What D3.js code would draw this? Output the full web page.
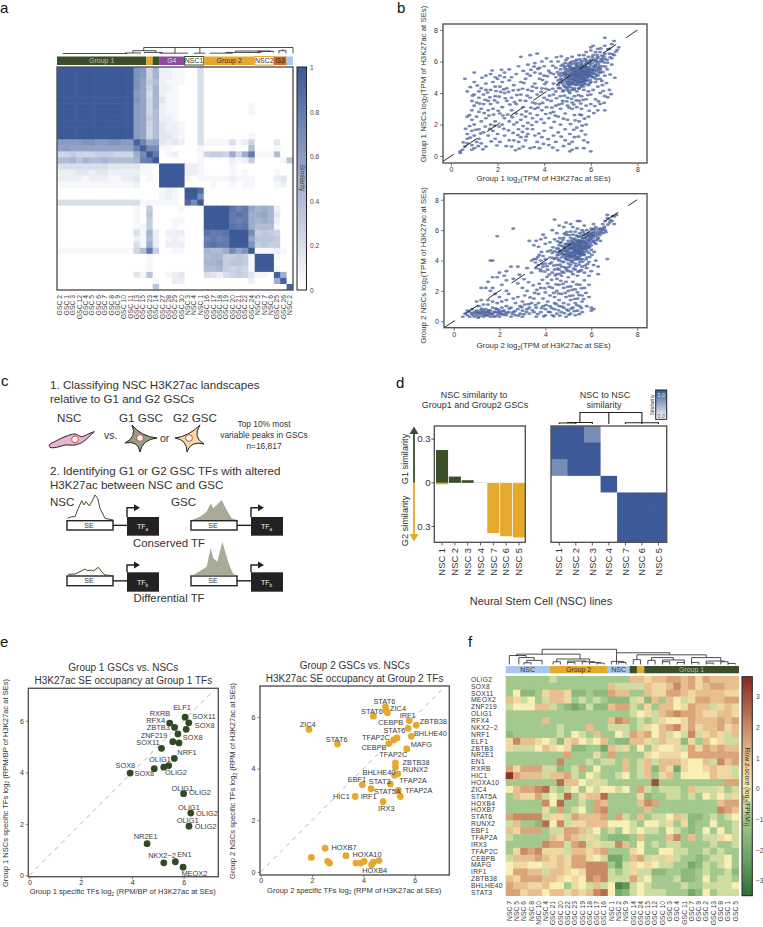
<!DOCTYPE html>
<html>
<head>
<meta charset="utf-8">
<script src="https://cdn.jsdelivr.net/npm/d3@7"></script>
<style>
body { margin: 0; background: #fff; }
svg { opacity: 0.999; }
text { font-family: "Liberation Sans", Arial, sans-serif; fill: #333; }
</style>
</head>
<body>
<svg id="fig" width="763" height="927"></svg>
<script>
'use strict';
// panel a: similarity matrix, one char per cell, 0..k means 0..1 in steps of 0.05
var aLabels = ['GSC 2','GSC 1','GSC 3','GSC 12','GSC 4','GSC 5','GSC 6','GSC 7','GSC 8','GSC 9','GSC 10','GSC 11','GSC 13','GSC 15','GSC 23','GSC 14','GSC 27','GSC 28','GSC 29','GSC 30','NSC 3','NSC 4','NSC 1','GSC 16','GSC 17','GSC 18','GSC 19','GSC 20','GSC 21','GSC 22','GSC 24','NSC 5','NSC 7','NSC 6','GSC 25','GSC 26','NSC 2'];
var aRows = [
 'kkkkkkkkkkkk dc59 2211 004 0000 000 0 000 00 0',
 'kkkkkkkkkkkk dc59 2211 004 0000 000 0 000 00 0',
 'kkkkkkkkkkkk db68 2111 004 0000 000 0 000 00 0',
 'kkkkkkkkkkkk db59 2210 004 0000 000 0 000 00 0',
 'kkkkkkkkkkkk cb49 2110 004 0000 000 0 000 00 0',
 'kkkkkkkkkkkk db59 3110 004 0000 000 0 000 00 0',
 'kkkkkkkkkkkk cb59 2110 004 0000 000 1 000 00 0',
 'kkkkkkkkkkkk cb58 2110 004 0000 000 1 000 00 0',
 'kkkkkkkkkkkk cb68 2210 004 0000 000 0 000 00 0',
 'kkkkkkkkkkkk cb58 3221 004 0000 000 0 000 00 0',
 'kkkkkkkkkkkk cb58 3221 004 0000 000 0 000 00 0',
 'kkkkkkkkkkkk cb58 3321 004 0000 000 1 000 00 0',
 'ccccddccddcc jfab 3232 004 1111 412 5 000 30 0',
 'bcbbbbbbbbbb fjee 1100 001 0000 100 8 000 10 0',
 '556555666555 aekg 0120 001 5665 a5a g 111 80 0',
 '889798898888 9fgk 0000 001 0000 212 6 000 01 7',
 '444444443333 3110 kkkk 221 0000 100 0 000 00 0',
 '222332332222 2110 kkkk 221 0000 101 0 000 10 0',
 '222212221122 3010 kkkk 101 1111 211 1 000 23 0',
 '111111111111 2000 kkkk 000 0100 101 1 000 12 0',
 '000000000000 0000 1210 kki 0000 000 0 000 00 0',
 '000000000000 0000 1210 kke 0000 000 0 000 00 0',
 '444444444444 4111 1110 iek 0000 000 0 000 00 0',
 '000000000000 1060 0001 000 kkkk hfg b 9a9 20 0',
 '000000000000 1070 0000 000 kkkk ghg a ab9 30 0',
 '000000000000 1060 0011 000 kkkk gfg a 9a9 20 0',
 '000000000000 1160 0010 000 kkkk hgh a 888 10 0',
 '000000000000 4192 0222 000 hggh kkk e 676 50 0',
 '000000000000 2182 0121 000 fgfg kkk b 777 60 0',
 '000000000000 41a2 0222 000 ghgg kkk d 676 60 0',
 '111111111111 58g6 0011 000 988a ebd k 111 21 0',
 '000000000000 0010 0000 000 8996 676 1 kkk 10 0',
 '000000000000 0010 0000 000 99a6 776 1 kkk 00 0',
 '000000000000 0010 0000 000 8896 565 1 kkk 10 0',
 '000000000000 3170 0123 000 4324 565 3 110 ja 0',
 '000000000000 0001 0022 000 0000 000 2 000 aj 0',
 '000000000000 0007 0000 000 0000 000 0 000 00 j'
];
var aBars = [
 {from: 0, to: 14, name: 'Group 1', fill: '#3a4f2a', text: '#b9c0a8'},
 {from: 14, to: 15, name: '', fill: '#e5a92d', text: '#333'},
 {from: 15, to: 16, name: '', fill: '#3a4f2a', text: '#333'},
 {from: 16, to: 20, name: 'G4', fill: '#8e4a9e', text: '#ddd'},
 {from: 20, to: 23, name: 'NSC1', fill: '#fff', edge: '#3a4f2a', text: '#333'},
 {from: 23, to: 31, name: 'Group 2', fill: '#e5a92d', text: '#333'},
 {from: 31, to: 34, name: 'NSC2', fill: '#fff', edge: '#e5a92d', text: '#333'},
 {from: 34, to: 36, name: 'G3', fill: '#d2691e', text: '#222'},
 {from: 36, to: 37, name: '', fill: '#a6c8ea', text: '#333'}
];
// dendrogram merges: left leaf, right leaf, left child height, right child height, height
var aDendro = [[0.4,10.5,0,0,0],[10.2,12.6,0,0,1.5],[11.4,15,1.5,3,8],[13.2,16,0,0,3],[13.1,36.5,8,0,17],
 [15.6,20,0,0,1],[18,18,1,17,17],[21,22.7,0,0,1],[21.9,21.9,1,17,17],[23.5,27,0,0,1],[26,29.5,1,2,3],[27.5,33,3,5,7],
 [29.5,31.5,1,1,3],[31,33.5,1,3,6],[34.3,35.4,0,0,8],[34.9,34.9,8,12,12]];

// panel b: scatter points, "x,y" pairs
var b1Points = ('0.4,0.3 0.5,0.4 0.4,0.2 0.7,1.1 0.7,0.8 0.9,0.4 0.9,0.7 1.0,0.5 0.6,0.6 1.1,0.9 1.0,1.3 0.9,1.6 0.7,1.4 1.2,1.1 1.3,0.8 1.5,0.6 1.2,1.7 0.8,1.9 1.4,1.5 1.0,2.0 1.6,1.3 1.8,1.6 1.9,1.1 2.0,1.4 2.1,0.9 1.7,2.0 1.3,2.2 0.9,2.3 0.7,2.5 0.8,2.6 1.1,2.5 1.5,2.4 1.9,2.2 2.2,2.0 0.9,2.9 1.2,2.8 1.6,2.9 1.0,3.2 1.4,3.3 1.8,3.0 2.1,2.7 2.3,2.4 ' +
 '0.6,4.9 1.0,4.7 0.7,4.1 1.0,3.9 1.2,3.7 0.9,3.5 1.4,3.9 1.6,3.5 1.3,4.3 1.7,4.2 1.9,3.8 2.0,3.4 2.2,3.1 2.4,3.5 1.5,4.6 1.8,4.7 2.1,4.4 2.3,4.0 2.6,3.7 2.8,3.3 1.0,5.3 1.5,5.1 1.7,5.2 1.9,5.0 2.1,5.1 2.3,5.3 2.0,4.9 2.5,4.8 2.7,4.5 2.9,4.2 1.2,4.1 1.5,4.2 1.1,3.4 1.3,3.0 1.7,3.3 1.9,4.4 2.2,4.7 2.4,4.3 2.6,5.0 2.8,5.2 2.5,5.5 2.3,5.0 ' +
 '3.0,3.9 3.2,3.5 3.1,3.1 3.4,3.7 3.3,4.2 3.5,4.4 3.0,4.7 3.2,4.9 3.4,5.1 3.1,5.4 2.9,5.7 3.3,5.8 3.0,6.3 3.4,6.4 3.6,5.9 3.7,6.5 3.8,5.6 3.9,6.0 3.6,5.3 3.8,4.9 4.0,5.7 4.1,6.2 4.0,5.1 3.6,4.6 3.9,4.3 3.7,3.9 3.5,3.4 4.1,4.7 4.2,5.4 4.3,6.0 4.2,4.2 4.0,3.7 3.8,3.3 3.6,3.0 3.4,2.7 3.2,2.5 3.0,2.3 2.8,2.7 2.6,2.9 2.5,2.2 2.7,2.0 2.9,1.7 3.1,1.9 3.3,2.1 3.5,2.4 3.7,2.6 3.9,2.9 4.1,3.1 4.3,3.5 4.4,3.9 4.4,4.6 4.4,5.2 ' +
 '2.3,1.3 2.5,1.0 2.7,1.0 2.6,0.6 2.9,0.9 3.0,1.2 3.2,1.0 3.1,0.6 3.4,0.5 3.3,1.4 3.5,1.7 3.7,0.9 3.8,0.5 3.9,1.2 3.6,1.3 4.0,1.6 4.0,2.1 4.2,2.4 4.3,1.8 4.4,1.3 4.5,0.9 4.2,0.7 4.6,1.5 4.7,2.0 4.6,2.5 4.4,2.8 4.5,3.2 4.7,3.0 4.9,2.7 4.9,1.7 5.0,2.3 5.1,1.4 4.9,1.0 5.2,0.9 5.2,0.4 5.1,0.3 5.4,0.5 5.3,1.2 5.4,1.8 5.5,2.2 5.6,1.6 5.7,1.0 6.0,0.3 5.7,0.5 5.8,2.0 5.9,2.5 5.6,2.6 5.3,2.6 5.2,3.0 5.0,3.2 4.8,3.5 4.7,3.8 ' +
 '5.0,3.7 5.2,3.4 5.4,3.1 5.6,3.0 5.8,3.2 5.5,3.5 5.3,3.8 5.1,4.0 5.6,3.8 5.8,3.6 6.0,3.3 6.3,2.9 6.6,2.9 6.4,3.3 6.2,3.6 6.0,3.9 5.9,4.1 5.7,4.2 6.1,4.2 6.4,4.0 6.6,3.8 6.3,4.4 6.5,4.5 6.8,4.2 ' +
 '4.5,4.1 4.6,4.5 4.7,4.3 4.8,4.1 4.9,4.4 5.0,4.2 5.1,4.5 5.2,4.2 5.3,4.3 5.4,4.1 5.5,4.3 5.6,4.5 5.7,4.6 5.4,4.5 5.2,4.6 5.0,4.7 4.8,4.6 4.6,4.8 4.5,5.0 4.7,5.1 4.9,5.0 5.1,4.8 5.3,4.9 5.5,4.7 5.6,4.9 5.8,4.8 6.0,4.7 5.9,4.5 6.2,4.7 6.4,4.9 6.1,5.0 5.9,5.1 5.7,5.0 5.5,5.1 5.3,5.2 5.1,5.1 4.9,5.3 4.7,5.5 4.5,5.6 4.6,6.0 4.8,5.8 5.0,5.5 5.2,5.4 5.4,5.3 5.6,5.2 5.8,5.3 6.0,5.3 6.2,5.2 6.4,5.3 6.6,5.1 6.3,5.5 6.1,5.5 5.9,5.5 5.7,5.4 5.5,5.5 5.3,5.6 5.1,5.7 4.9,5.9 5.0,6.2 5.2,6.0 5.4,5.8 5.6,5.6 5.8,5.7 6.0,5.8 6.2,5.8 6.5,5.7 6.7,5.5 6.9,5.8 6.4,6.0 6.2,6.1 6.0,6.1 5.8,6.0 5.6,5.9 5.4,6.1 5.2,6.3 5.5,6.4 5.7,6.4 5.9,6.3 6.1,6.4 6.3,6.3 6.5,6.2 6.7,6.1 6.9,6.2 7.0,6.4 6.8,6.5 6.6,6.5 6.4,6.6 6.2,6.6 6.0,6.7 5.8,6.6 6.1,7.0 6.0,6.9 6.3,6.8 6.6,7.0 6.9,7.1 7.0,7.3 6.6,7.5 7.2,6.9 6.8,6.8 ' +
 '5.05,4.95 5.15,5.05 5.25,4.85 5.35,5.05 5.45,4.95 5.15,5.25 5.25,5.15 5.35,5.35 5.45,5.25 5.55,5.35 5.05,5.35 4.95,5.15 5.65,5.05 5.75,5.15 5.25,4.65 5.35,4.75 5.45,4.65 5.05,4.55 5.15,4.35 5.55,4.55 5.65,4.75 5.75,4.85 5.85,4.95 5.95,5.25 5.85,5.15 5.25,5.45 5.15,5.55 5.35,5.55 5.45,5.65 5.55,5.75 5.65,5.35 5.65,5.55 5.75,5.65 5.85,5.45 5.95,5.65 6.05,5.45 5.05,5.85 4.85,5.25 4.75,4.85 4.85,4.45 4.95,4.85 ' +
 '4.62,4.31 4.71,4.92 4.83,4.17 4.94,5.21 5.03,4.38 5.12,5.62 5.21,4.73 5.27,5.33 5.36,4.87 5.43,5.47 5.52,5.02 5.58,4.41 5.61,5.78 5.72,5.23 5.78,4.57 5.83,5.92 5.91,5.07 5.97,4.83 6.03,5.37 6.11,5.67 6.17,4.93 6.22,6.02 6.31,5.13 6.37,5.73 6.44,6.13 6.52,5.33 6.58,5.93 4.58,5.32 4.67,4.64 4.73,5.73 4.87,5.57 4.92,4.73 5.01,5.03 5.08,4.67 5.13,5.17 5.18,4.93 5.22,5.58 5.28,5.07 5.31,4.52 5.34,5.23 5.38,5.72 5.41,5.13 5.47,4.82 5.49,5.38 5.53,5.57 5.57,5.12 5.62,4.67 5.63,5.43 5.68,5.67 5.71,4.93 5.74,5.47 5.77,5.83 5.82,5.02 5.87,5.33 5.92,5.42 5.96,4.62 6.01,5.12 6.07,5.93 6.13,5.27 6.16,5.62 6.23,5.42 6.28,6.22 6.33,5.87 6.41,5.47 6.47,6.37 6.57,6.33 6.63,5.67 6.72,5.92 6.83,6.27 6.93,6.47 7.07,6.62 7.13,6.73 6.73,6.77 6.43,6.83 6.27,6.43 6.07,6.27 5.93,5.88 5.73,6.17 5.53,6.13 5.33,6.03 5.13,5.93 4.93,6.08 4.73,6.33 4.53,6.27 4.37,5.73 4.27,5.27 4.13,5.07 4.03,4.57 3.93,4.82 3.83,5.23 3.73,5.53 3.57,5.68 3.43,5.47 3.27,5.22 3.13,4.63 3.07,4.27 3.27,3.83 3.47,4.13 3.67,4.33 3.87,4.07 4.07,4.27 4.23,3.83 4.37,4.27 4.53,3.67 4.63,3.27 4.77,3.33 4.87,3.83 4.97,3.47 5.07,3.07 5.17,3.63 5.27,3.27 5.37,3.53 5.47,3.87 5.57,3.33 5.67,3.57 5.87,3.87 ' +
 '2.17,5.47 1.77,5.43 1.33,4.97 1.13,4.47 1.57,4.03 1.87,3.53 2.07,3.77 2.27,4.23 2.47,4.07 2.67,4.17 2.83,3.87 2.97,3.53 2.73,3.43 2.53,3.27 2.33,3.67 2.13,4.07 1.93,4.13 1.67,3.73 1.47,3.57 1.23,3.33 0.93,3.83 0.83,4.37 1.43,2.73 1.63,2.57 1.83,2.63 2.03,2.87 2.23,2.57 2.43,2.63 2.63,2.47 2.83,2.13 3.03,2.63 3.23,2.83 3.43,3.07 3.63,3.33 3.73,3.07 3.93,3.37 4.13,3.57 4.33,3.07 4.47,2.57 4.27,2.73 4.07,2.67 3.87,2.33 3.67,2.17 3.47,1.97 3.27,1.73 3.07,1.53 2.87,1.33 2.67,1.47 2.47,1.63 2.27,1.73 2.07,1.87 1.87,1.93 1.67,1.73 1.47,1.87 1.27,1.43 1.07,1.67 0.83,1.17 0.53,0.87 0.63,1.73 1.17,0.63 1.37,0.43 1.73,0.93 1.97,0.67 2.37,0.63 2.77,0.37 2.93,0.47 3.23,1.23 3.57,0.57 3.77,1.43 3.97,0.77 4.17,1.07 4.37,0.53 4.57,0.37 4.73,1.23 4.83,0.63 5.07,0.77 5.27,1.67 5.47,1.23 5.63,1.93 5.77,1.37 5.87,0.87 4.43,2.17 4.83,2.37 5.13,2.03 5.33,2.27 5.53,2.63 5.73,2.37 5.93,2.87 6.13,2.73 6.17,3.17 6.33,3.47 6.57,3.37 6.73,3.73 6.87,3.93 6.53,4.13 6.67,4.63 7.03,4.97 6.83,5.17 6.47,4.77 6.27,4.87 ' +
 '4.92,5.42 4.98,4.58 5.04,5.18 5.09,4.88 5.11,5.44 5.16,4.62 5.19,5.09 5.23,5.26 5.26,4.92 5.29,5.52 5.32,4.78 5.33,5.12 5.37,5.42 5.39,4.98 5.42,5.18 5.44,4.72 5.46,5.08 5.48,5.62 5.51,5.24 5.54,4.88 5.56,5.46 5.59,4.98 5.62,5.28 5.64,5.68 5.66,4.86 5.69,5.12 5.71,5.38 5.73,4.72 5.76,5.32 5.79,5.58 5.81,5.22 5.84,4.78 5.86,5.62 5.89,5.38 5.93,5.18 5.98,5.52 6.04,5.02 6.08,5.22 6.14,5.42 6.19,5.72 6.24,5.08 6.29,5.62 6.34,5.32 4.96,4.32 5.06,4.12 5.18,4.58 5.28,4.22 5.38,4.58 5.48,4.28 5.58,4.72 5.68,4.42 4.78,4.72 4.84,5.12 4.88,5.68 4.76,5.28 4.64,5.18 5.02,5.72 5.18,5.82 5.32,5.88 5.46,5.92 5.62,6.02 5.78,6.12 5.94,6.02 6.12,6.12 6.26,5.98 6.39,5.58 6.49,6.02 6.61,6.17').split(' ');
var b2Points = ('0.4,0.3 0.5,0.5 0.6,0.4 0.7,0.6 0.7,0.3 0.8,0.5 0.9,0.3 0.9,0.6 1.0,0.4 1.0,0.7 0.6,0.7 0.8,0.8 1.1,0.5 1.1,0.3 1.2,0.6 1.2,0.4 1.3,0.7 1.3,0.3 1.4,0.5 1.4,0.8 1.5,0.4 1.5,0.6 1.6,0.3 1.6,0.7 1.7,0.5 1.7,0.9 1.8,0.3 1.8,0.6 1.9,0.8 1.9,0.4 2.0,0.6 2.0,0.3 2.1,0.9 2.1,0.5 2.2,0.7 2.3,0.4 2.3,1.0 2.4,0.6 2.5,0.3 2.5,0.9 2.6,0.6 2.7,0.4 2.8,0.8 2.9,0.5 3.0,0.7 3.0,0.3 1.1,1.0 1.3,1.1 1.5,1.1 1.0,1.3 1.2,1.4 1.5,1.4 1.7,1.3 1.9,1.2 2.1,1.3 2.3,1.4 2.0,1.6 1.8,1.8 1.6,2.0 1.4,2.2 1.7,2.2 1.2,2.2 1.5,2.6 1.9,2.9 2.1,2.4 2.3,2.0 2.4,1.8 2.6,1.5 2.7,1.2 2.9,1.0 2.8,1.6 3.0,1.3 3.1,1.1 3.2,0.8 3.3,0.5 3.1,1.7 3.2,2.0 3.0,2.2 2.8,2.5 2.6,2.8 2.3,2.7 2.2,3.0 2.0,3.2 1.7,2.9 1.9,5.6 2.6,6.1 3.4,3.2 3.2,3.5 2.8,3.6 2.5,3.6 2.3,3.3 1.6,4.0 1.7,4.0 ' +
 '3.3,0.9 3.4,1.2 3.5,0.6 3.5,1.5 3.6,0.9 3.6,0.3 3.7,1.2 3.7,1.8 3.8,0.6 3.8,2.2 3.9,1.0 3.9,1.5 4.0,0.4 4.0,0.8 4.0,1.9 4.1,1.3 4.1,2.5 4.2,0.6 4.2,1.0 4.2,1.7 4.3,2.2 4.3,0.4 4.4,0.8 4.4,1.2 4.4,1.6 4.5,0.5 4.5,2.0 4.5,2.8 4.6,1.0 4.6,1.4 4.6,2.4 4.7,0.6 4.7,1.8 4.7,3.0 4.8,0.9 4.8,1.2 4.8,2.2 4.9,0.3 4.9,1.6 4.9,2.6 5.0,0.7 5.0,1.1 5.0,2.0 5.0,2.9 5.1,1.4 5.1,0.5 5.1,2.3 5.2,0.9 5.2,1.7 5.2,2.6 5.3,0.4 5.3,1.2 5.3,2.1 5.4,0.7 5.4,1.5 5.4,1.9 5.5,1.0 5.5,2.4 5.6,0.6 5.6,1.3 5.6,1.7 5.7,2.2 5.8,1.0 5.9,1.6 6.0,0.7 6.1,0.8 6.0,0.9 5.7,2.7 5.9,2.4 ' +
 '3.4,4.0 3.5,4.1 3.6,4.1 3.7,3.7 3.6,3.5 3.8,4.0 3.9,3.6 3.8,3.3 3.9,4.3 4.0,4.1 4.0,3.8 4.1,3.4 4.1,4.6 4.2,4.2 4.2,3.8 4.3,3.2 4.3,4.5 4.0,5.1 3.5,5.0 3.6,5.3 3.3,5.3 3.8,5.4 4.0,5.5 3.7,4.9 4.2,5.2 4.4,5.4 4.5,5.8 4.3,6.0 3.9,5.7 4.4,6.7 4.8,6.2 4.6,6.3 4.9,6.5 5.1,6.4 5.4,6.6 5.5,6.6 5.2,6.2 4.4,3.4 4.5,3.1 4.5,3.7 4.6,3.4 4.7,3.6 4.8,3.2 4.9,3.5 5.0,3.3 5.1,3.7 5.2,3.1 5.3,3.4 5.4,3.0 5.5,3.3 5.6,3.6 5.7,3.2 5.8,3.5 5.9,3.0 6.0,3.3 6.1,3.7 6.3,3.1 6.3,3.6 6.7,4.1 6.2,4.0 5.9,3.9 ' +
 '4.4,4.1 4.4,4.6 4.5,4.2 4.5,4.8 4.6,4.0 4.6,4.4 4.6,5.0 4.7,4.2 4.7,4.6 4.7,5.2 4.8,3.9 4.8,4.4 4.8,4.9 4.8,5.5 4.9,4.1 4.9,4.6 4.9,5.1 4.9,5.7 5.0,3.8 5.0,4.3 5.0,4.8 5.0,5.3 5.1,4.0 5.1,4.5 5.1,5.0 5.1,5.5 5.1,5.9 5.2,4.2 5.2,4.7 5.2,5.2 5.2,5.7 5.3,3.8 5.3,4.4 5.3,4.9 5.3,5.4 5.3,5.9 5.4,4.1 5.4,4.6 5.4,5.1 5.4,5.6 5.4,6.1 5.5,3.9 5.5,4.3 5.5,4.8 5.5,5.3 5.5,5.8 5.6,4.1 5.6,4.6 5.6,5.0 5.6,5.5 5.6,6.0 5.7,4.4 5.7,4.8 5.7,5.3 5.7,5.7 5.7,6.3 5.8,4.2 5.8,4.6 5.8,5.1 5.8,5.5 5.8,6.0 5.9,4.5 5.9,5.3 5.9,5.8 6.0,4.7 6.0,5.0 6.0,5.6 6.0,6.1 6.1,5.3 6.1,5.9 6.1,6.4 6.2,5.1 6.2,5.6 6.2,6.2 6.3,5.5 6.3,5.9 6.4,5.3 6.4,6.1 6.5,5.8 6.5,6.4 6.6,6.0 6.6,6.6 6.7,6.8 6.8,6.5 6.7,7.0 6.9,6.6 7.0,6.9 7.1,7.0 7.0,6.4 ' +
 '5.05,4.75 5.15,4.85 5.25,4.55 5.35,4.65 5.45,4.45 5.15,4.25 5.25,4.05 5.35,4.25 5.45,4.85 5.55,4.55 5.65,4.75 5.25,4.95 5.35,5.15 5.45,5.35 5.55,5.15 5.65,5.25 5.75,5.05 4.95,4.45 4.85,4.75 4.75,4.45 5.05,5.05 5.15,5.25 5.25,5.45 5.35,5.65 5.45,5.55 5.55,5.65 5.65,5.85 5.75,5.55 5.85,5.75 5.95,5.55 5.05,4.15 5.15,3.95 5.45,4.15 5.65,4.35 5.85,4.85 5.95,5.15 6.05,5.25 6.05,5.75 4.65,4.65 4.55,4.55 ' +
 '0.83,0.43 0.97,0.53 1.07,0.23 1.17,0.73 1.27,0.53 1.37,0.63 1.43,0.37 1.53,0.73 1.63,0.47 1.73,0.33 1.83,0.83 1.93,0.57 2.03,0.47 2.13,0.67 2.27,0.53 2.43,0.83 2.57,0.47 2.67,0.67 2.83,0.37 2.97,0.93 3.07,0.47 3.17,0.63 3.27,1.13 3.43,0.73 3.57,1.07 3.67,0.47 3.83,0.87 3.93,0.33 4.03,1.07 4.13,0.63 4.27,0.87 4.37,0.33 4.47,1.13 4.57,0.73 4.63,0.37 4.73,0.97 4.83,0.53 4.93,0.77 5.03,0.43 5.13,0.83 5.27,0.67 5.37,1.07 5.47,0.47 5.57,0.87 3.33,1.57 3.53,1.87 3.63,2.07 3.47,2.37 3.27,2.57 3.07,2.77 2.87,3.07 3.73,2.47 3.87,2.73 3.97,2.17 4.07,2.93 4.17,2.27 4.27,2.73 4.37,1.87 4.47,2.43 4.57,1.83 4.67,2.67 4.77,2.47 4.87,1.87 4.97,2.27 5.07,1.67 5.17,2.07 5.27,1.47 5.37,2.43 5.47,1.73 5.57,2.17 5.67,1.47 5.77,1.87 ' +
 '3.57,3.87 3.67,4.23 3.77,3.43 3.87,3.77 3.97,3.27 4.07,3.63 4.17,3.07 4.27,3.87 4.33,4.17 4.37,3.67 4.43,3.03 4.53,3.47 4.57,4.07 4.63,3.13 4.63,3.73 4.73,3.27 4.73,3.93 4.83,3.57 4.87,4.17 4.93,3.37 4.97,4.03 5.03,3.57 5.07,4.37 5.13,3.27 5.17,3.87 5.23,3.47 5.27,4.33 5.33,3.63 5.37,4.07 5.43,3.27 5.47,3.73 5.53,4.07 5.57,3.37 5.63,3.93 5.73,3.67 5.77,4.07 5.83,3.77 5.93,4.23 6.03,4.37 6.13,4.57 ' +
 '4.52,4.37 4.57,4.77 4.63,5.17 4.68,4.53 4.72,4.97 4.77,5.37 4.83,4.63 4.88,5.07 4.92,4.27 4.97,4.67 5.02,5.13 5.08,4.37 5.12,4.83 5.17,5.37 5.22,4.47 5.24,5.03 5.28,4.77 5.32,5.27 5.37,4.43 5.38,4.93 5.42,5.23 5.46,4.67 5.48,5.03 5.52,4.37 5.53,4.93 5.58,5.23 5.61,4.83 5.63,5.43 5.67,4.57 5.72,4.93 5.74,5.17 5.78,4.73 5.82,5.37 5.86,5.03 5.88,5.63 5.92,4.87 5.97,5.43 6.02,5.83 6.07,5.47 6.12,5.67 6.17,6.03 6.23,5.33 6.27,5.73 6.33,6.07 6.37,5.67 6.43,5.93 6.53,6.13 6.63,5.87 6.73,6.37 6.83,6.67 6.93,6.93 5.03,5.67 4.83,5.77 4.93,5.87 4.63,5.47 4.53,5.27 4.33,4.87 4.23,4.67 3.83,4.57 3.73,4.37 ' +
 '4.78,4.32 4.84,4.82 4.91,4.42 4.96,4.92 5.01,4.58 5.06,4.28 5.09,4.92 5.14,4.52 5.18,5.12 5.21,4.32 5.23,4.82 5.27,5.08 5.29,4.62 5.31,4.18 5.33,4.72 5.36,4.98 5.39,4.52 5.41,5.28 5.43,4.78 5.44,4.22 5.47,5.12 5.49,4.62 5.51,4.98 5.54,4.48 5.56,5.28 5.59,4.72 5.62,4.42 5.64,5.12 5.68,4.88 5.71,5.48 5.76,4.92 5.81,5.22 5.84,5.62 5.89,4.92 5.94,5.38 5.99,5.72 6.09,5.62 6.14,5.18 6.19,5.82 6.28,5.42 6.38,5.82 6.48,6.02 6.58,6.22 1.13,0.58 1.33,0.42 1.47,0.62 1.58,0.52 1.77,0.62 1.97,0.72 2.17,0.42 2.33,0.58 1.23,0.83 1.02,0.62').split(' ');

// panel d
var nscOrder = ['NSC 1','NSC 2','NSC 3','NSC 4','NSC 7','NSC 6','NSC 5'];
var g1Sim = [0.225, 0.043, 0.018, 0.001, 0, 0, 0];
var g2Sim = [0.01, 0, 0, 0, 0.344, 0.366, 0.375];
var nscMatrix = [
 [1,1,0.7,0,0,0,0],
 [1,1,1,0,0,0,0],
 [0.7,1,1,0,0,0,0],
 [0,0,0,1,0,0,0],
 [0,0,0,0,1,1,1],
 [0,0,0,0,1,1,1],
 [0,0,0,0,1,1,1]
];
var dDendro = [[0,1,0,0,1],[0.5,2,1,0,1.5],[1.25,5,1.5,0,11],[4,6,0,0,1.2],[3,3,0,11,11]];

// panel e
var e1X = [6.06,6.2,6.1,5.46,5.65,5.78,5.58,5.82,5.14,5.64,5.23,5.42,4.86,3.92,6.0,6.28,6.21,4.58,5.23,5.68,5.98];
var e1Y = [6.14,5.92,5.67,5.91,5.74,5.49,5.19,5.14,4.93,4.54,4.2,4.26,4.14,3.97,3.17,2.42,1.91,1.23,0.49,0.53,0.32];
var e2X = [1.88,2.99,4.39,4.86,4.88,4.94,5.79,6.06,5.75,5.87,5.31,5.18,4.99,5.69,5.25,5.25,5.34,5.22,3.96,4.3,5.05,5.36,5.44,3.68,4.77,2.51,1.97,2.61,2.68,3.32,3.71,3.9,4.03,4.32,4.39,4.61];
var e2Y = [5.52,4.95,6.03,6.39,6.25,6.16,5.86,5.68,5.56,5.25,5.19,5.11,4.97,4.76,4.22,4.06,3.8,3.74,3.38,3.22,3.4,3.16,2.92,2.92,2.72,0.92,0.56,0.41,0.34,0.63,0.34,0.34,0.41,0.28,0.38,0.44];
// label centres in 3x crop pixels
var e1Labels = [['ELF1',546,231],['SOX11',612,260],['SOX8',614,285],['RXRB',480,249],['RFX4',467,272],['ZBTB3',475,293],['ZNF219',462,315],['SOX8',578,323],['SOX11',444,338],['NRF1',561,367],['OLIG1',480,389],['OLIG2',528,428],['SOX8',376,406],['SOX8',433,431],['OLIG1',547,475],['OLIG2',600,488],['OLIG1',567,533],['OLIG2',621,549],['OLIG1',563,570],['OLIG2',617,588],['NR2E1',437,618],['NKX2\u22122',486,677],['EN1',553,673],['MEOX2',583,729]];
var e2Labels = [['STAT6',463,214],['ZIC4',504,236],['STAT6',426,244],['IRF1',533,257],['ZBTB38',610,273],['CEBPB',482,277],['STAT6',493,300],['BHLHE40',601,311],['TFAP2C',438,322],['MAFG',574,343],['CEBPB',432,351],['TFAP2C',490,372],['ZBTB38',558,397],['RUNX2',556,419],['BHLHE40',447,426],['EBF1',381,449],['STAT3',449,453],['TFAP2A',549,452],['TFAP2A',566,481],['STAT5A',472,484],['HIC1',334,498],['IRF1',416,498],['IRX3',469,536],['ZIC4',233,283],['STAT6',320,327],['HOXB7',342,652],['HOXA10',411,672],['HOXB4',434,721]];

// panel f: z-score levels, a=-3 ... g=0 ... m=3, n=3.5
var fGenes = ['OLIG2','SOX8','SOX11','MEOX2','ZNF219','OLIG1','RFX4','NKX2\u22122','NRF1','ELF1','ZBTB3','NR2E1','EN1','RXRB','HIC1','HOXA10','ZIC4','STAT5A','HOXB4','HOXB7','STAT6','RUNX2','EBF1','TFAP2A','IRX3','TFAP2C','CEBPB','MAFG','IRF1','ZBTB38','BHLHE40','STAT3'];
var fCols = ['NSC 7','NSC 5','NSC 6','NSC 8','NSC 10','NSC 4','GSC 21','GSC 20','GSC 22','GSC 23','GSC 19','GSC 18','GSC 17','GSC 16','NSC 1','NSC 2','NSC 9','GSC 14','GSC 24','GSC 15','GSC 12','GSC 10','GSC 3','GSC 4','GSC 11','GSC 7','GSC 9','GSC 2','GSC 13','GSC 8','GSC 1','GSC 5'];
var fRows = [
 'eeeeee feeeeeee eee ii hiijjijhjiiii',
 'eeeeee eeeeeeee iff ff ihhikijhijjii',
 'egddeh iihddedd jii ee ihhjjihiiiihh',
 'ihfgef iihefefe ddd fh dieigfhjjiijj',
 'fgggii fedcdfdd ijj fe heiighjiifhih',
 'eeeeee eeeeeeee eee fg hfijkjjihhiih',
 'eeeeei eeeeeeee ikj ef efhgghjiiijij',
 'eeeeee efeeeiee fff ef hgijkhjhiijhi',
 'deeeee efegfeie egf ji jgifgfkfhihfi',
 'hkiihg fdhigfgi edd ii hfihhdheighff',
 'hfffgi hghddeec ifh eg ehgghfjhjijii',
 'eeeeee eejeeehe jee ee hghhhgjjjjjjj',
 'eeeeee ekeeefef fei ef ifiiihggifkij',
 'jhjjjf fdefjege eei ef idihchgghihhf',
 'njiiif iijfegfe efg ef iehieggggihhf',
 'eeeeee eliigfhf eee ee emeeeeeeeeejj',
 'gijjkl fefgegfg gfg ej fefffeifffhef',
 'eihhjf gflehiil eee eh deeffefegfgfh',
 'eeeeek gleefeji eee ei kjeeeeeeeeijj',
 'eeeeeh ejefgejk eee ee ieeeeeeeeekji',
 'jkkkkf hhfjiiij ejf ei effgifddefefg',
 'fieedl gkfhhiii ggg fe ggfhehdeegeef',
 'ihjjje ffjjifge feg fg ffegfedegegef',
 'feeeee ihjifhfe ddd ei eeeikeieffhgf',
 'eeeeek jjfjkfhf fki eg efeffeeeefeef',
 'ehkjkh hhfiihij eee hg eeggffeefefee',
 'fiiiji hihjjhgf cce ij fhfhfeedeffge',
 'ghhggh hihjjkkk ecf hg hgffeecdfefge',
 'gjjiif iihghkkk fef hf fddeeddefeefd',
 'ihjjji ihghgkjk fff jf geeefddegeffe',
 'jiihhi ggehgfif gab fg feeeefeeffffg',
 'jjhiig iihihikl gcd fg fffeeecdgefff'
];
var fBars = [
 {from: 0, to: 6, name: 'NSC', fill: '#a6c8ea', text: '#333'},
 {from: 6, to: 14, name: 'Group 2', fill: '#e5a92d', text: '#333'},
 {from: 14, to: 17, name: 'NSC', fill: '#a6c8ea', text: '#333'},
 {from: 17, to: 18, name: '', fill: '#3a4f2a', text: '#333'},
 {from: 18, to: 19, name: '', fill: '#e5a92d', text: '#333'},
 {from: 19, to: 32, name: 'Group 1', fill: '#3a4f2a', text: '#b9c0a8'}
];
var fDendro = [[4.5,14.7,30,34,44],[1,9.7,25,16,30],[0,2.3,0,20,26],[1.3,3.4,0,12,20],[2.4,4.5,5,0,12],[2,3,0,0,5],[6.5,11,8,10,16],[6,7,0,0,8],[8,10.5,6,8,10],[8,9,0,0,6],[10,11.7,0,6,8],[11,12.5,0,4,6],[12,13,0,0,4],
 [14.7,22,0,28,34],[14,15.7,0,6,9],[15,16,0,0,6],[17,18,0,0,14],[19,20,0,0,12],[21,24,8,6,13],[17.5,27,14,20,28],[19.5,22.5,12,13,20],[21,22,0,0,8],[23,24,0,0,6],[25,29,6,10,20],[25,26,0,0,6],[27,29.5,4,8,10],[27,28,0,0,4],[29,30,0,0,8],[30,31,0,0,3]];

var blueInk = '#3c5a97';
var orangeInk = '#e5a92d';
var greenInk = '#2f4a25';
var frameInk = '#555';

var svg = d3.select('#fig');
svg.append('rect').attr('width', 763).attr('height', 927).attr('fill', '#fff');
var defs = svg.append('defs');

function label(g, x, y, str, size, opts){
    opts = opts || {};
    var t = g.append('text').attr('font-size', size)
        .attr('text-anchor', opts.anchor || 'start');
    if (opts.rotate){
        t.attr('transform', 'translate(' + x + ',' + y + ') rotate(' + opts.rotate + ')');
    } else {
        t.attr('x', x).attr('y', y);
    }
    t.style('fill', opts.fill || '#333');
    if (opts.spacing) t.style('letter-spacing', opts.spacing + 'px');
    // a part written as _2_ goes out as a subscript
    str.split('_').forEach(function(part, i){
        var s = t.append('tspan').text(part);
        if (i % 2 == 1) s.attr('font-size', size * 0.65).attr('dy', size * 0.25);
        else if (i > 0) s.attr('dy', -size * 0.25);
    });
    return t;
}

function frame(g, x0, y0, x1, y1, w){
    g.append('rect').attr('x', x0).attr('y', y0).attr('width', x1 - x0).attr('height', y1 - y0)
        .attr('fill', 'none').attr('stroke', frameInk).attr('stroke-width', w || 1.4);
}

function drawDendro(g, merges, xs, ys, width){
    merges.forEach(function(m){
        var d = 'M' + xs(m[0]) + ',' + ys(m[2]) + 'V' + ys(m[4]) + 'H' + xs(m[1]) + 'V' + ys(m[3]);
        g.append('path').attr('d', d).attr('fill', 'none').attr('stroke', '#222').attr('stroke-width', width || 0.9);
    });
}

function drawBars(g, bars, xs, y0, y1, size){
    bars.forEach(function(b){
        g.append('rect').attr('x', xs(b.from)).attr('y', y0).attr('width', xs(b.to) - xs(b.from)).attr('height', y1 - y0)
            .attr('fill', b.fill)
            .attr('stroke', b.edge || 'none').attr('stroke-width', 1);
        if (b.name) label(g, (xs(b.from) + xs(b.to)) / 2, y1 - 1.7, b.name, size, {anchor: 'middle', fill: b.text});
    });
}

function gradientBar(g, id, x, y, w, h, scale, top, bottom){
    var grad = defs.append('linearGradient').attr('id', id).attr('x1', 0).attr('y1', 0).attr('x2', 0).attr('y2', 1);
    d3.range(0, 21).forEach(function(i){
        var f = i / 20;
        grad.append('stop').attr('offset', f).attr('stop-color', scale(top + (bottom - top) * f));
    });
    g.append('rect').attr('x', x).attr('y', y).attr('width', w).attr('height', h)
        .attr('fill', 'url(#' + id + ')').attr('stroke', '#222').attr('stroke-width', 1);
}

function styleAxis(a){
    a.selectAll('.domain').remove();
    a.selectAll('line').attr('stroke', '#444').attr('stroke-width', 0.7);
    a.selectAll('text').attr('font-size', 7).attr('font-family', '"Liberation Sans", Arial, sans-serif').style('fill', '#333');
}

// letters
[['a',0,13],['b',397,13],['c',1,386],['d',396,388],['e',0,647],['f',468,647]].forEach(function(l){
    label(svg, l[1], l[2], l[0], 15, {fill: '#111'});
});

/* ---- panel a ---- */
(function(){
    var g = svg.append('g');
    var x = d3.scaleLinear().domain([0, 37]).range([57, 293]);
    var y = d3.scaleLinear().domain([0, 37]).range([67, 290]);
    var color = d3.scaleLinear().domain([0, 1]).range(['#ffffff', blueInk]);
    aRows.forEach(function(row, r){
        row.replace(/ /g, '').split('').forEach(function(c, k){
            g.append('rect').attr('x', x(k)).attr('y', y(r))
                .attr('width', Math.min(x(k + 1) - x(k) + 0.6, 293 - x(k))).attr('height', Math.min(y(r + 1) - y(r) + 0.6, 290 - y(r)))
                .attr('fill', color(parseInt(c, 21) * 0.05));
        });
    });
    frame(g, 57, 67, 293, 290);
    drawBars(g, aBars, x, 56.5, 65, 7);
    var hs = d3.scaleLinear().domain([0, 17]).range([53.5, 47.5]);
    drawDendro(g, aDendro, function(v){ return x(v + 0.5); }, hs, 0.8);
    aLabels.forEach(function(n, i){
        label(g, x(i + 0.5) + 2.3, 295, n, 6.8, {anchor: 'end', rotate: -90, fill: '#444'});
    });
    gradientBar(g, 'aGrad', 297, 67, 9.5, 223, color, 1, 0);
    var cy = d3.scaleLinear().domain([0, 1]).range([290.5, 67.5]);
    [0, 0.2, 0.4, 0.6, 0.8, 1].forEach(function(v){
        label(g, 310, cy(v) + 2.4, String(v), 6.6, {fill: '#444'});
    });
    label(g, 299.7, 178, 'Similarity', 6.6, {anchor: 'middle', rotate: 90, fill: '#444'});
})();

/* ---- panel b ---- */
function scatterB(box, xDomain, yDomain, points, yText, yTextMid, xText, xTextY, dashOffset){
    var g = svg.append('g');
    var x = d3.scaleLinear().domain(xDomain).range([box[0], box[2]]);
    var y = d3.scaleLinear().domain(yDomain).range([box[3], box[1]]);
    g.selectAll('ellipse').data(points.map(function(p){ return p.split(',').map(Number); })).enter()
        .append('ellipse')
        .attr('cx', function(d){ return x(d[0]); })
        .attr('cy', function(d){ return y(d[1]); })
        .attr('rx', 2.1).attr('ry', 1.35)
        .attr('fill', '#4a629c').attr('opacity', 0.75);
    g.append('line').attr('x1', x(xDomain[0])).attr('y1', y(xDomain[0])).attr('x2', x(8)).attr('y2', y(8))
        .attr('stroke', '#111').attr('stroke-width', 0.9).attr('stroke-dasharray', '16 12').attr('stroke-dashoffset', dashOffset);
    var ax = g.append('g').attr('transform', 'translate(0,' + box[3] + ')')
        .call(d3.axisBottom(x).tickValues([0, 2, 4, 6, 8]).tickSize(3).tickPadding(1.5));
    styleAxis(ax);
    var ay = g.append('g').attr('transform', 'translate(' + box[0] + ',0)')
        .call(d3.axisLeft(y).tickValues([0, 2, 4, 6, 8]).tickSize(3).tickPadding(2));
    styleAxis(ay);
    frame(g, box[0], box[1], box[2], box[3]);
    label(g, 425.5, yTextMid, yText, 7.85, {anchor: 'middle', rotate: -90});
    label(g, 543.5, xTextY, xText, 7.85, {anchor: 'middle'});
}
scatterB([443, 24, 647, 163], [-0.34, 8.41], [-0.44, 8.38], b1Points, 'Group 1 NSCs log_2_(TPM of H3K27ac at SEs)', 84, 'Group 1 log_2_(TPM of H3K27ac at SEs)', 181, 3);
scatterB([444, 193.7, 647, 327.7], [-0.42, 8.43], [-0.42, 8.4], b2Points, 'Group 2 NSCs log_2_(TPM of H3K27ac at SEs)', 265.5, 'Group 2 log_2_(TPM of H3K27ac at SEs)', 348, 3);

/* ---- panel c ---- */
(function(){
    var g = svg.append('g');
    var big = 11.6;
    label(g, 50, 389, '1. Classifying NSC H3K27ac landscapes', big);
    label(g, 50, 403, 'relative to G1 and G2 GSCs', big);
    label(g, 57, 421.5, 'NSC', big);
    label(g, 119, 421.5, 'G1 GSC', big);
    label(g, 173, 421.5, 'G2 GSC', big);
    label(g, 104, 439, 'vs.', 10.5);
    label(g, 160, 442, 'or', 10.5);
    label(g, 264, 427, 'Top 10% most', 8.4, {anchor: 'middle'});
    label(g, 264, 438, 'variable peaks in GSCs', 8.4, {anchor: 'middle'});
    label(g, 264, 449, 'n=16,817', 8.4, {anchor: 'middle'});
    label(g, 50, 475, '2. Identifying G1 or G2 GSC TFs with altered', big);
    label(g, 50, 489, 'H3K27ac between NSC and GSC', big);
    label(g, 50, 506, 'NSC', big);
    label(g, 171, 506, 'GSC', big);
    label(g, 169, 547, 'Conserved TF', 11.4, {anchor: 'middle'});
    label(g, 169, 602, 'Differential TF', 11.4, {anchor: 'middle'});

    // cell outlines traced in 3x crop pixels
    var cellLine = d3.line().curve(d3.curveCatmullRomClosed)
        .x(function(p){ return p[0] / 3; }).y(function(p){ return 370 + p[1] / 3; });
    var pink = [[148,225],[170,212],[195,200],[225,192],[245,200],[265,192],[283,185],[270,197],[250,215],[225,225],[195,225],[170,232],[150,232]];
    g.append('path').attr('d', cellLine(pink)).attr('fill', '#e9b3d3').attr('stroke', '#222').attr('stroke-width', 1);
    g.append('circle').attr('cx', 75).attr('cy', 439.5).attr('r', 3.4).attr('fill', '#fff').attr('stroke', '#d4433c').attr('stroke-width', 1);

    function star(cx, cy, tips, fill){
        var p = '';
        tips.forEach(function(t, i){
            var n = tips[(i + 1) % tips.length];
            if (i == 0) p += 'M' + (cx + t[0]) + ',' + (cy + t[1]);
            p += 'Q' + (cx + (t[0] + n[0]) * 0.12) + ',' + (cy + (t[1] + n[1]) * 0.12) + ' ' + (cx + n[0]) + ',' + (cy + n[1]);
        });
        g.append('path').attr('d', p + 'Z').attr('fill', fill).attr('stroke', '#222').attr('stroke-width', 1).attr('stroke-linejoin', 'round');
        g.append('circle').attr('cx', cx).attr('cy', cy).attr('r', 3.4).attr('fill', '#fff').attr('stroke', '#d4433c').attr('stroke-width', 1);
    }
    star(140, 438, [[-8,-13],[17,0],[0,14],[-15,5]], '#9a9c86');
    star(189, 438, [[-14,0],[11,-13],[15,6],[-2,14]], '#f7d9a6');

    function locus(xOff, boxTop, boxBot, tfTop, tfBot, arrowTop, sub){
        var seX = xOff, tfX = xOff + 60;
        g.append('line').attr('x1', seX + 46).attr('x2', tfX).attr('y1', (boxTop + boxBot) / 2).attr('y2', (boxTop + boxBot) / 2)
            .attr('stroke', '#222').attr('stroke-width', 1.4);
        g.append('rect').attr('x', seX).attr('y', boxTop).attr('width', 46).attr('height', boxBot - boxTop)
            .attr('fill', '#fff').attr('stroke', '#222').attr('stroke-width', 1.4);
        label(g, seX + 22, boxBot - 2.4, 'SE', 7, {anchor: 'middle'});
        g.append('rect').attr('x', tfX).attr('y', tfTop).attr('width', 32).attr('height', tfBot - tfTop).attr('fill', '#222');
        g.append('path').attr('d', 'M' + tfX + ',' + tfTop + 'V' + arrowTop + 'H' + (tfX + 8))
            .attr('fill', 'none').attr('stroke', '#222').attr('stroke-width', 1.4);
        g.append('path').attr('d', 'M' + (tfX + 7) + ',' + (arrowTop - 3.5) + 'L' + (tfX + 13) + ',' + arrowTop + 'L' + (tfX + 7) + ',' + (arrowTop + 3.5) + 'Z').attr('fill', '#222');
        label(g, tfX + 10, (tfTop + tfBot) / 2 + 3, 'TF_' + sub + '_', 7, {fill: '#eee'});
    }
    locus(67, 520.7, 530, 517, 535.7, 507.7, 'a');
    locus(191, 520.7, 530, 517, 535.7, 507.7, 'a');
    locus(67, 576, 585.7, 572.3, 591.7, 565, 'b');
    locus(191, 576, 585.7, 572.3, 591.7, 565, 'b');

    // signal tracks traced in 3x crop pixels
    function track(pts, fill){
        var line = d3.line().x(function(p){ return p[0] / 3; }).y(function(p){ return 370 + p[1] / 3; });
        g.append('path').attr('d', line(pts))
            .attr('fill', fill ? '#a9ab98' : 'none').attr('stroke', fill ? 'none' : '#3a4f2a').attr('stroke-width', 1);
    }
    track([[203,445],[215,440],[225,440],[235,415],[245,392],[252,405],[258,395],[268,408],[278,390],[285,375],[293,385],[300,415],[315,445],[340,450]]);
    track([[575,450],[600,440],[620,425],[632,400],[640,415],[650,405],[665,390],[680,420],[695,445],[710,450]], true);
    track([[205,613],[225,612],[240,605],[255,597],[262,602],[275,600],[280,603],[295,592],[305,605],[315,615],[338,617]]);
    track([[578,616],[600,603],[620,590],[632,535],[640,565],[652,575],[667,515],[680,560],[690,590],[700,612],[710,616]], true);
})();

/* ---- panel d ---- */
(function(){
    var g = svg.append('g');
    var x = d3.scaleBand().domain(nscOrder).range([436, 525]).paddingInner(0.06);
    var y = d3.scaleLinear().domain([-0.408, 0.39]).range([542.3, 426]);
    nscOrder.forEach(function(n, i){
        if (g1Sim[i] > 0) g.append('rect').attr('x', x(n)).attr('y', y(g1Sim[i])).attr('width', x.bandwidth()).attr('height', y(0) - y(g1Sim[i])).attr('fill', '#3a4f2a');
        if (g2Sim[i] > 0) g.append('rect').attr('x', x(n)).attr('y', y(0)).attr('width', x.bandwidth()).attr('height', y(-g2Sim[i]) - y(0)).attr('fill', orangeInk);
        g.append('line').attr('x1', x(n) + x.bandwidth() / 2).attr('x2', x(n) + x.bandwidth() / 2).attr('y1', 542.3).attr('y2', 545.5).attr('stroke', '#333').attr('stroke-width', 0.8);
        label(g, x(n) + x.bandwidth() / 2 + 3.2, 548, n, 9.4, {anchor: 'end', rotate: -90});
    });
    frame(g, 434.3, 426, 525.3, 542.3);
    [[0.3, '0.3'], [0, '0'], [-0.3, '0.3']].forEach(function(t){
        g.append('line').attr('x1', 431.3).attr('x2', 434.3).attr('y1', y(t[0])).attr('y2', y(t[0])).attr('stroke', '#333').attr('stroke-width', 0.8);
        label(g, 430.5, y(t[0]) + 3.3, t[1], 9.6, {anchor: 'end'});
    });
    // similarity arrows
    var axX = 414;
    g.append('line').attr('x1', axX).attr('x2', axX).attr('y1', y(0)).attr('y2', 431).attr('stroke', '#3a4f2a').attr('stroke-width', 1.8);
    g.append('path').attr('d', 'M' + (axX - 4.5) + ',434L' + axX + ',426.5L' + (axX + 4.5) + ',434Z').attr('fill', '#3a4f2a');
    g.append('line').attr('x1', axX).attr('x2', axX).attr('y1', y(0)).attr('y2', 536).attr('stroke', orangeInk).attr('stroke-width', 1.8);
    g.append('path').attr('d', 'M' + (axX - 4.5) + ',534L' + axX + ',541.5L' + (axX + 4.5) + ',534Z').attr('fill', orangeInk);
    label(g, 408, 459, 'G1 similarity', 9.2, {anchor: 'middle', rotate: -90});
    label(g, 408, 521, 'G2 similarity', 9.2, {anchor: 'middle', rotate: -90});
    label(g, 474, 398, 'NSC similarity to', 9, {anchor: 'middle'});
    label(g, 475, 407.5, 'Group1 and Group2 GSCs', 9, {anchor: 'middle'});
    label(g, 605, 398, 'NSC to NSC', 9, {anchor: 'middle'});
    label(g, 604, 407.5, 'similarity', 9, {anchor: 'middle'});
    label(g, 541, 605, 'Neural Stem Cell (NSC) lines', 11, {anchor: 'middle'});

    var mx = d3.scaleBand().domain(nscOrder).range([551, 666.7]);
    var my = d3.scaleBand().domain(nscOrder).range([426, 542.3]);
    var color = d3.scaleLinear().domain([0, 1]).range(['#ffffff', blueInk]);
    nscMatrix.forEach(function(row, r){
        row.forEach(function(v, k){
            g.append('rect').attr('x', mx(nscOrder[k])).attr('y', my(nscOrder[r]))
                .attr('width', k == 6 ? mx.bandwidth() : mx.bandwidth() + 0.6).attr('height', r == 6 ? my.bandwidth() : my.bandwidth() + 0.6).attr('fill', color(v));
        });
    });
    frame(g, 551, 426, 666.7, 542.3);
    nscOrder.forEach(function(n){
        var c = mx(n) + mx.bandwidth() / 2;
        g.append('line').attr('x1', c).attr('x2', c).attr('y1', 542.3).attr('y2', 545.5).attr('stroke', '#333').attr('stroke-width', 0.8);
        label(g, c + 3.2, 548, n, 9.4, {anchor: 'end', rotate: -90});
    });
    var dx = function(v){ return mx(nscOrder[0]) + (v + 0.5) * mx.bandwidth(); };
    drawDendro(g, dDendro, dx, d3.scaleLinear().domain([0, 11]).range([424, 412.5]), 1.1);
    gradientBar(g, 'dGrad', 655.7, 390, 11, 29.3, color, 1, 0);
    label(g, 661.2, 396.5, '1.0', 5.2, {anchor: 'middle', fill: '#dfe4ee'});
    label(g, 661.2, 417.5, '0.0', 5.2, {anchor: 'middle', fill: '#555'});
    label(g, 653.5, 405, 'Similarity', 5.2, {anchor: 'middle', rotate: -90});
})();

/* ---- panel e ---- */
function scatterE(box, xDomain, yDomain, xv, yv, ink, labels, crop, titles, xText, yText, yTextX){
    var g = svg.append('g');
    var x = d3.scaleLinear().domain(xDomain).range([box[0], box[2]]);
    var y = d3.scaleLinear().domain(yDomain).range([box[3], box[1]]);
    g.append('line').attr('x1', x(0)).attr('y1', y(0)).attr('x2', x(7.2)).attr('y2', y(7.2))
        .attr('stroke', '#aaa').attr('stroke-width', 0.9).attr('stroke-dasharray', '4.5 4.5');
    g.selectAll('circle').data(d3.range(xv.length)).enter().append('circle')
        .attr('cx', function(i){ return x(xv[i]); })
        .attr('cy', function(i){ return y(yv[i]); })
        .attr('r', 3.4).attr('fill', ink);
    labels.forEach(function(l){
        label(g, crop[0] + l[1] / 3, crop[1] + l[2] / 3 + 2.5, l[0], 7.4, {anchor: 'middle', fill: '#3a3a3a'});
    });
    var ax = g.append('g').attr('transform', 'translate(0,' + box[3] + ')')
        .call(d3.axisBottom(x).tickValues([0, 2, 4, 6]).tickSize(2.5).tickPadding(0.5));
    styleAxis(ax);
    var ay = g.append('g').attr('transform', 'translate(' + box[0] + ',0)')
        .call(d3.axisLeft(y).tickValues([0, 2, 4, 6]).tickSize(2.5).tickPadding(2));
    styleAxis(ay);
    frame(g, box[0], box[1], box[2], box[3]);
    var cx = (box[0] + box[2]) / 2;
    label(g, cx, box[1] - 17, titles[0], 10, {anchor: 'middle'});
    label(g, cx, box[1] - 4.5, titles[1], 10, {anchor: 'middle'});
    label(g, cx - 0.5, box[3] + 17.5, xText, 7.55, {anchor: 'middle'});
    label(g, yTextX, (box[1] + box[3]) / 2 + 0.5, yText, 7.55, {anchor: 'middle', rotate: -90});
}
scatterE([28.3, 688.3, 218.3, 876.7], [-0.04, 7.35], [-0.05, 7.26], e1X, e1Y, greenInk, e1Labels, [0, 630],
    ['Group 1 GSCs vs. NSCs', 'H3K27ac SE occupancy at Group 1 TFs'],
    'Group 1 specific TFs log_2_ (RPM/BP of H3K27ac at SEs)', 'Group 1 NSCs specific TFs log_2_ (RPM/BP of H3K27ac at SEs)', 7.5);
scatterE([260, 686, 449.3, 875], [-0.03, 7.35], [-0.12, 7.2], e2X, e2Y, orangeInk, e2Labels, [230, 630],
    ['Group 2 GSCs vs. NSCs', 'H3K27ac SE occupancy at Group 2 TFs'],
    'Group 2 specific TFs log_2_ (RPM of H3K27ac at SEs)', 'Group 2 NSCs specific TFs log_2_ (RPM of H3K27ac at SEs)', 235);

/* ---- panel f ---- */
(function(){
    var g = svg.append('g');
    var x = d3.scaleLinear().domain([0, 32]).range([505.7, 739]);
    var y = d3.scaleLinear().domain([0, 32]).range([676, 896]);
    var color = d3.scaleLinear()
        .domain([-3.5, -2.5, -1, 0, 1, 2, 3.6])
        .range(['#2e6b3a', '#5f9a5c', '#a4c98f', '#f8efb4', '#e8c08f', '#c98a63', '#8a2a2a']);
    fRows.forEach(function(row, r){
        row.replace(/ /g, '').split('').forEach(function(c, k){
            g.append('rect').attr('x', x(k)).attr('y', y(r))
                .attr('width', x(k + 1) - x(k) + (k < 31 ? 0.6 : 0)).attr('height', y(r + 1) - y(r) + (r < 31 ? 0.6 : 0))
                .attr('fill', color((c.charCodeAt(0) - 97) * 0.5 - 3));
        });
    });
    drawBars(g, fBars, x, 666, 673.3, 7);
    var hs = d3.scaleLinear().domain([0, 44]).range([664.5, 649.3]);
    drawDendro(g, fDendro, function(v){ return x(v + 0.5); }, hs, 0.8);
    fGenes.forEach(function(n, i){
        label(g, 471, y(i + 0.5) + 2.4, n, 6.7, {fill: '#333', spacing: 0.3});
    });
    fCols.forEach(function(n, i){
        label(g, x(i + 0.5) + 2.3, 901, n, 6.8, {anchor: 'end', rotate: -90, fill: '#444'});
    });
    gradientBar(g, 'fGrad', 742, 676.7, 10.3, 219, color, 3.65, -3.48);
    var cy = d3.scaleLinear().domain([3, -3]).range([696.7, 881]);
    d3.range(-3, 4).forEach(function(v){
        label(g, 756, cy(v) + 2.4, v < 0 ? '\u2212' + Math.abs(v) : String(v), 6.6, {fill: '#444'});
    });
    label(g, 745, 787, 'Row z-score (log_2_(FPKM))', 6.8, {anchor: 'middle', rotate: 90, fill: '#333'});
})();
</script>
</body>
</html>
